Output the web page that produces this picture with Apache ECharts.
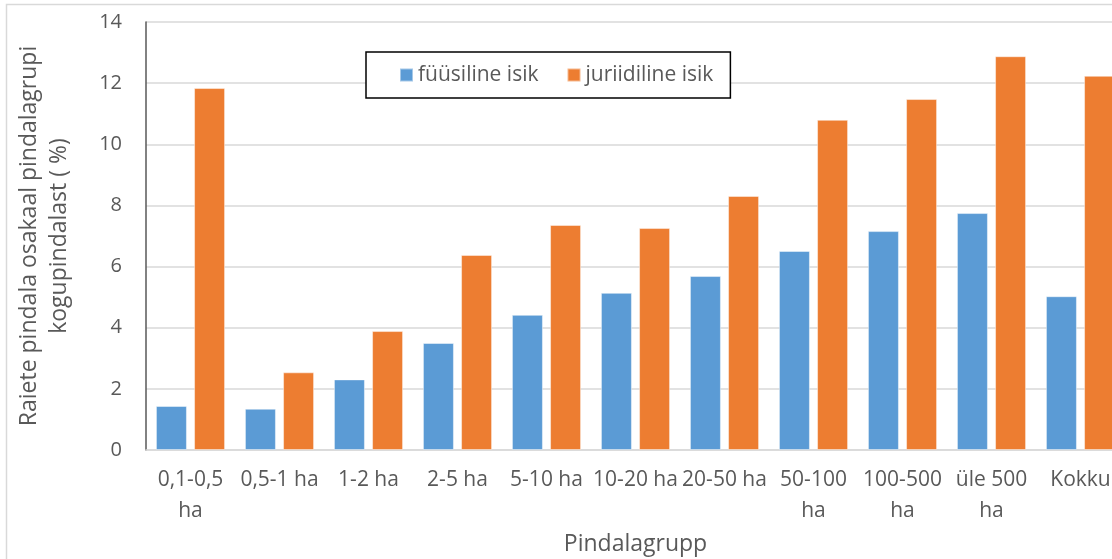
<!DOCTYPE html>
<html>
<head>
<meta charset="utf-8">
<script src="https://cdn.jsdelivr.net/npm/echarts@6/dist/echarts.min.js"></script>
<style>
  html, body { margin: 0; padding: 0; overflow: hidden; background: #fff; }
  #chart { width: 1130px; height: 559px; }
</style>
</head>
<body>
<div id="chart"></div>
<script>
// Area groups (x axis)
const categories = ['0,1-0,5\nha', '0,5-1 ha', '1-2 ha', '2-5 ha', '5-10 ha', '10-20 ha',
  '20-50 ha', '50-100\nha', '100-500\nha', 'üle 500\nha', 'Kokku'];
// Share of strip area within the area group (%)
const fyysiline = [1.44, 1.35, 2.31, 3.50, 4.42, 5.14, 5.69, 6.51, 7.16, 7.75, 5.03];
const juriidiline = [11.84, 2.54, 3.89, 6.38, 7.36, 7.26, 8.31, 10.80, 11.48, 12.88, 12.24];
const seriesNames = ['füüsiline isik', 'juriidiline isik'];
const yTicks = { min: 0, max: 14, interval: 2 };

const FONT = '"Open Sans", "Noto Sans", sans-serif';
const chart = echarts.init(document.getElementById('chart'), null, { renderer: 'canvas' });

chart.setOption({
  animation: false,
  backgroundColor: '#fff',
  textStyle: { fontFamily: FONT },
  graphic: [{
    type: 'rect',
    shape: { x: 6.5, y: 4.5, width: 1200, height: 600 },
    style: { fill: 'none', stroke: '#d9d9d9', lineWidth: 1.5 },
    silent: true, z: -1
  }],
  grid: { left: 146, right: 5, top: 22, bottom: 109, containLabel: false, outerBoundsMode: 'none' },
  legend: {
    left: 366, top: 52,
    padding: [11, 17, 11, 33],
    borderColor: '#000', borderWidth: 1.5, backgroundColor: '#fff',
    itemWidth: 13, itemHeight: 13, itemGap: 28,
    icon: 'rect',
    textStyle: { fontSize: 21, color: '#595959', fontFamily: FONT, lineHeight: 24 },
    data: seriesNames
  },
  xAxis: {
    type: 'category',
    data: categories,
    name: 'Pindalagrupp',
    nameLocation: 'middle',
    nameGap: 83,
    nameTextStyle: { fontSize: 23, color: '#595959', fontFamily: FONT },
    axisLine: { lineStyle: { color: '#d9d9d9', width: 1.5 } },
    axisTick: { show: false },
    axisLabel: { fontSize: 21, color: '#595959', lineHeight: 31, margin: 15, interval: 0, fontFamily: FONT }
  },
  yAxis: {
    type: 'value',
    min: yTicks.min, max: yTicks.max, interval: yTicks.interval,
    name: 'Raiete pindala osakaal pindalagrupi\nkogupindalast ( %)',
    nameLocation: 'middle',
    nameRotate: 90,
    nameGap: 72,
    nameTextStyle: { fontSize: 23, color: '#595959', lineHeight: 30, fontFamily: FONT },
    axisLine: { show: true, lineStyle: { color: '#595959', width: 1.5 } },
    axisTick: { show: false },
    axisLabel: { fontSize: 20, color: '#595959', margin: 24, fontFamily: FONT },
    splitLine: { lineStyle: { color: '#d9d9d9', width: 1.5 } }
  },
  series: [
    {
      name: seriesNames[0], type: 'bar', data: fyysiline,
      barWidth: 31, barGap: '23%',
      itemStyle: { color: '#5B9BD5', borderColor: 'rgba(255,255,255,0.45)', borderWidth: 1 }
    },
    {
      name: seriesNames[1], type: 'bar', data: juriidiline,
      barWidth: 31, barGap: '23%',
      itemStyle: { color: '#ED7D31', borderColor: 'rgba(255,255,255,0.45)', borderWidth: 1 }
    }
  ]
});
</script>
</body>
</html>
